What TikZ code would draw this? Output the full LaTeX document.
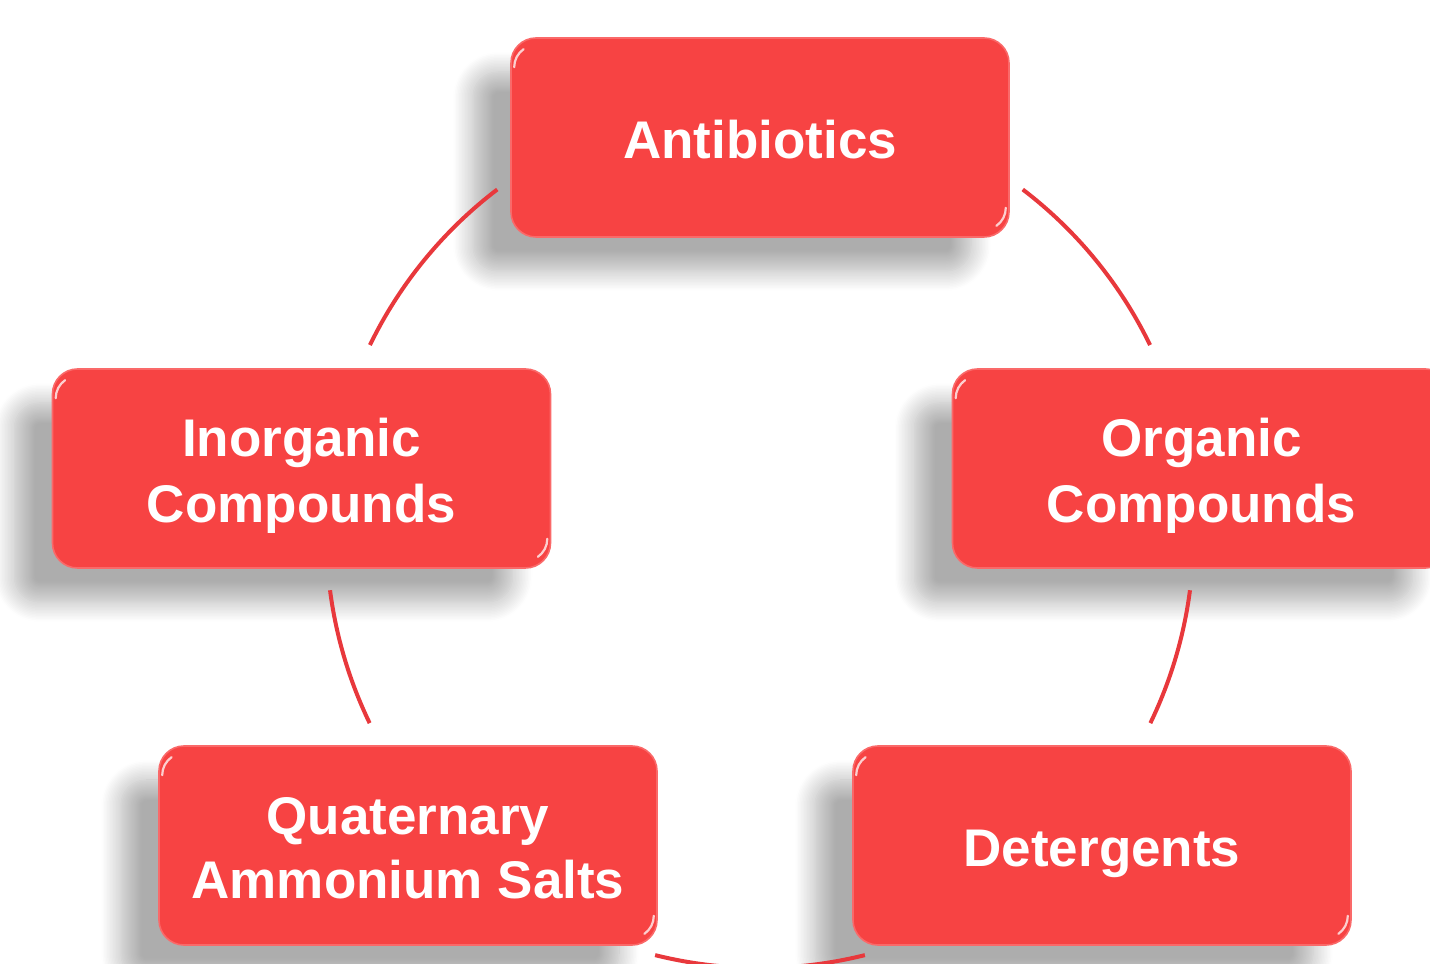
\documentclass[tikz,border=0pt]{standalone}
\usepackage{fontspec}
\setmainfont{Liberation Sans}
\usetikzlibrary{shadows.blur}
\definecolor{boxred}{RGB}{247,67,67}
\definecolor{boxedge}{RGB}{250,105,105}
\definecolor{arcred}{RGB}{232,56,60}
\newcommand\bst{\vrule height 26.5pt depth 5.5pt width 0pt}
\tikzset{
  cycbox/.style={rectangle, rounded corners=12.5pt, fill=boxred, draw=boxedge, line width=0.8pt,
    minimum width=249pt, minimum height=99.5pt, inner sep=0pt, align=center,
    text=white, font=\fontsize{26.5pt}{32pt}\selectfont\bfseries,
    blur shadow={shadow xshift=-19pt, shadow yshift=-17pt, shadow blur radius=10pt,
      shadow blur steps=14, shadow opacity=32}},
  cycarc/.style={draw=arcred, line width=2pt},
  glint/.style={draw=white, opacity=0.75, line width=1.1pt, line cap=round}
}
\begin{document}
\begin{tikzpicture}[x=0.5pt,y=0.5pt]
\useasboundingbox (0,0) rectangle (1430,964);
\coordinate (c) at (760,429.6);
\node[cycbox] (anti) at (760,826.5) {\bst Antibiotics};
\node[cycbox] (inorg) at (301.5,495.5) {\bst Inorganic\\\bst Compounds};
\node[cycbox] (org) at (1201.5,495.5) {\bst Organic\\\bst Compounds};
\node[cycbox] (quat) at (408,118.5) {\bst Quaternary\\\bst Ammonium Salts};
\node[cycbox] (det) at (1102,118.5) {\bst Detergents};
% bevel glints at the corners
\foreach \n in {anti,inorg,org,quat,det}{
  \draw[glint] ([shift={(4,-30)}]\n.north west) arc[start angle=180, end angle=125, radius=22];
  \draw[glint] ([shift={(-4,30)}]\n.south east) arc[start angle=0, end angle=-55, radius=22];
}
% arcs of the cycle, between the boxes
\draw[cycarc] ([shift={(127.3:433.6)}]c) arc[start angle=127.3, end angle=154.1, radius=433.6];
\draw[cycarc] ([shift={(52.7:433.6)}]c) arc[start angle=52.7, end angle=25.9, radius=433.6];
\draw[cycarc] ([shift={(187.4:433.6)}]c) arc[start angle=187.4, end angle=205.8, radius=433.6];
\draw[cycarc] ([shift={(-7.4:433.6)}]c) arc[start angle=-7.4, end angle=-25.8, radius=433.6];
\draw[cycarc] ([shift={(256:433.6)}]c) arc[start angle=256, end angle=284, radius=433.6];
\end{tikzpicture}
\end{document}
